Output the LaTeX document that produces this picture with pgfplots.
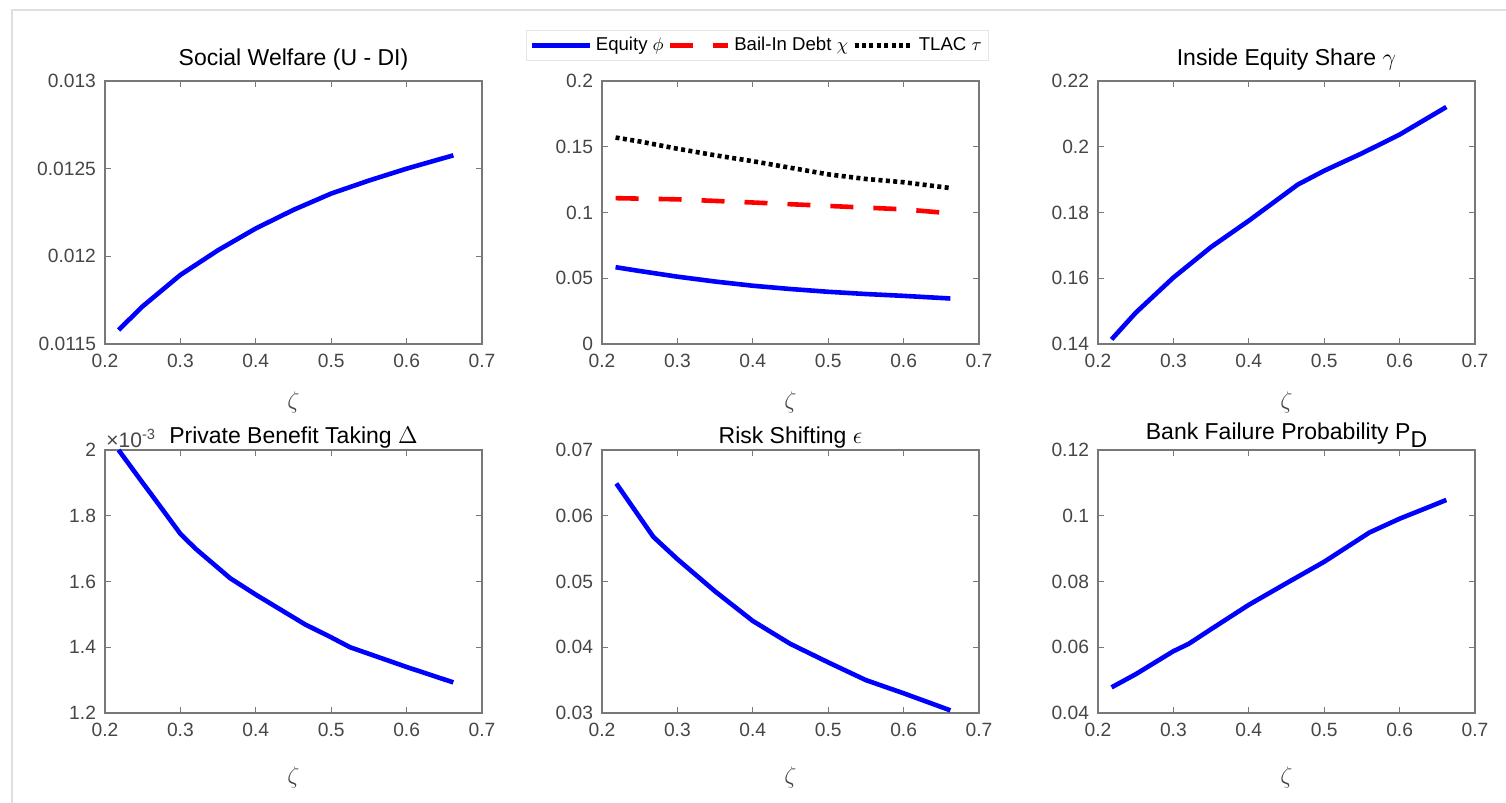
\documentclass[border=0pt]{standalone}
\usepackage{fontspec}
\setmainfont{Liberation Sans}
\usepackage{pgfplots}
\pgfplotsset{compat=1.18}
\definecolor{mblue}{RGB}{0,0,255}
\definecolor{mred}{RGB}{255,0,0}
\definecolor{axgray}{RGB}{120,120,120}
\definecolor{labgray}{RGB}{70,70,70}
\pgfplotsset{
  mstyle/.style={
    scale only axis, width=188.5pt, height=131.5pt, anchor=south west,
    xmin=0.2, xmax=0.7, xtick={0.2,0.3,0.4,0.5,0.6,0.7},
    axis line style={axgray, line width=0.8pt},
    every tick/.style={axgray, line width=0.6pt},
    major tick length=3pt,
    tick label style={font=\fontsize{9.6}{10}\selectfont, text=labgray},
    xticklabel style={yshift=-1.5pt},
    yticklabel style={xshift=-1pt},
    /pgf/number format/assume math mode=true,
    /pgf/number format/fixed,
    /pgf/number format/precision=4,
    scaled ticks=false,
    title style={font=\fontsize{11.5}{13}\selectfont},
    xlabel={$\zeta$},
    xlabel style={font=\fontsize{11.5}{12}\selectfont, text=labgray},
    every axis plot/.append style={line width=2.3pt},
  },
  row1/.style={title style={yshift=-4pt}, xlabel style={yshift=-5pt}},
  row2/.style={title style={yshift=-8.5pt}, xlabel style={yshift=-8pt}},
}
\begin{document}
\begin{tikzpicture}[x=0.5pt,y=0.5pt]
\useasboundingbox (0,0) rectangle (1506,803);
\draw[gray!25, line width=0.6pt] (12,0) -- (12,793) -- (1506,793);

% Row 1, col 1: Social welfare
\begin{axis}[mstyle, row1, at={(52.5pt,229.5pt)},
  ymin=0.0115, ymax=0.013, ytick={0.0115,0.012,0.0125,0.013},
  title={Social Welfare (U - DI)}]
\addplot[mblue] coordinates {(0.218,0.01158) (0.25,0.011715) (0.3,0.011894) (0.35,0.012035) (0.4,0.012159) (0.45,0.012265) (0.5,0.012358) (0.55,0.012432) (0.6,0.0125) (0.662,0.012576)};
\end{axis}

% Row 1, col 2: Equity, Bail-in, TLAC
\begin{axis}[mstyle, row1, at={(301pt,229.5pt)},
  ymin=0, ymax=0.2, ytick={0,0.05,0.1,0.15,0.2},
  legend columns=3,
  legend style={at={(0.5,1)}, anchor=south, xshift=-16.5pt, yshift=10pt,
    draw=gray!20, font=\fontsize{9.3}{10}\selectfont, inner sep=1.5pt,
    /tikz/every even column/.append style={column sep=0pt}},
  legend image code/.code={\draw[#1] (0pt,0pt) -- (29pt,0pt);}]
\addplot[mblue] coordinates {(0.218,0.0584) (0.25,0.0555) (0.3,0.0512) (0.35,0.0475) (0.4,0.0443) (0.45,0.0418) (0.5,0.0397) (0.55,0.0380) (0.6,0.0366) (0.662,0.0346)};
\addlegendentry{Equity $\phi$}
\addplot[mred, dash pattern=on 11.5pt off 10pt] coordinates {(0.218,0.1109) (0.3,0.1100) (0.4,0.1076) (0.5,0.1050) (0.6,0.1024) (0.662,0.0994)};
\addlegendentry{Bail-In Debt $\chi$}
\addplot[black, dash pattern=on 2pt off 1.7pt] coordinates {(0.218,0.157) (0.25,0.1540) (0.3,0.1485) (0.35,0.1435) (0.4,0.139) (0.45,0.134) (0.5,0.129) (0.55,0.1255) (0.6,0.123) (0.662,0.1186)};
\addlegendentry{TLAC $\tau$}
\end{axis}

% Row 1, col 3: Inside equity share
\begin{axis}[mstyle, row1, at={(549pt,229.5pt)},
  ymin=0.14, ymax=0.22, ytick={0.14,0.16,0.18,0.2,0.22},
  title={Inside Equity Share $\gamma$}]
\addplot[mblue] coordinates {(0.218,0.1414) (0.25,0.1495) (0.3,0.1602) (0.35,0.1695) (0.4,0.1775) (0.465,0.1885) (0.5,0.1927) (0.55,0.198) (0.6,0.2037) (0.662,0.2121)};
\end{axis}

% Row 2, col 1: Private benefit taking
\begin{axis}[mstyle, row2, at={(52.5pt,45pt)}, clip=false,
  ymin=1.2, ymax=2, ytick={1.2,1.4,1.6,1.8,2},
  title={Private Benefit Taking $\Delta$}]
\addplot[mblue] coordinates {(0.218,2.0) (0.25,1.90) (0.264,1.857) (0.3,1.745) (0.32,1.70) (0.366,1.61) (0.4,1.56) (0.465,1.47) (0.5,1.43) (0.525,1.40) (0.6,1.34) (0.662,1.293)};
\node[anchor=south west, inner sep=1pt, xshift=-0.5pt, font=\fontsize{10.5}{11}\selectfont, text=labgray] at (rel axis cs:0,1) {×10\textsuperscript{-3}};
\end{axis}

% Row 2, col 2: Risk shifting
\begin{axis}[mstyle, row2, at={(301pt,45pt)},
  ymin=0.03, ymax=0.07, ytick={0.03,0.04,0.05,0.06,0.07},
  title={Risk Shifting $\epsilon$}]
\addplot[mblue] coordinates {(0.219,0.0649) (0.268,0.0568) (0.3,0.0534) (0.35,0.0485) (0.4,0.0440) (0.45,0.0405) (0.5,0.0377) (0.55,0.0350) (0.6,0.0330) (0.662,0.0304)};
\end{axis}

% Row 2, col 3: Bank failure probability
\begin{axis}[mstyle, row2, at={(549pt,45pt)},
  ymin=0.04, ymax=0.12, ytick={0.04,0.06,0.08,0.1,0.12},
  title={Bank Failure Probability P\raisebox{-0.7ex}{D}}]
\addplot[mblue] coordinates {(0.218,0.0478) (0.25,0.0518) (0.3,0.0588) (0.32,0.061) (0.35,0.0655) (0.4,0.0729) (0.45,0.0795) (0.5,0.086) (0.56,0.0949) (0.6,0.0991) (0.662,0.1048)};
\end{axis}
\end{tikzpicture}
\end{document}
